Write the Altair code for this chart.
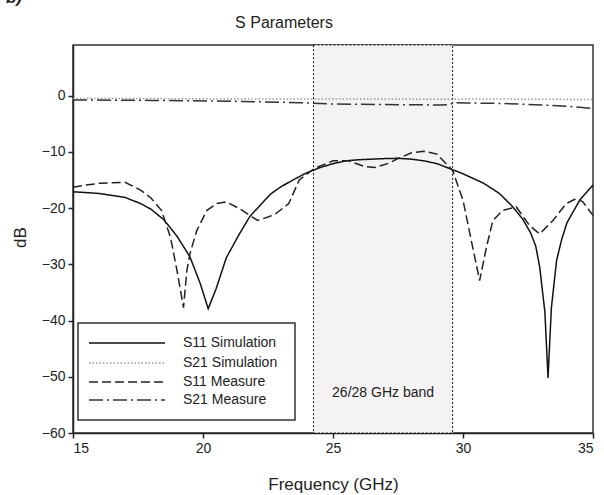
import altair as alt
import pandas as pd

# ---- data ----
s11_sim_f = [15.0, 16.0, 17.0, 17.6, 18.0, 18.5, 19.0, 19.5, 19.9, 20.2, 20.5, 20.9, 21.4, 21.8,
             22.2, 22.6, 23.0, 23.5, 24.0, 24.5, 25.0, 25.5, 26.0, 27.0, 27.5, 28.0, 28.5, 29.0,
             29.5, 30.0, 30.8, 31.4, 31.9, 32.3, 32.6, 32.8, 32.95, 33.15, 33.27, 33.4, 33.6,
             33.8, 34.0, 34.5, 35.0]
s11_sim_db = [-17.1, -17.4, -18.1, -19.2, -20.2, -22.1, -25.0, -28.7, -33.5, -37.9, -34.4, -28.8,
              -24.6, -21.5, -19.5, -17.5, -16.2, -14.9, -13.7, -12.8, -12.1, -11.6, -11.4, -11.2,
              -11.15, -11.3, -11.6, -12.1, -13.0, -13.9, -15.6, -17.4, -19.7, -22.0, -24.4, -26.8,
              -30.5, -38.5, -50.2, -37.7, -29.3, -25.5, -22.6, -18.5, -15.9]

s21_sim_f = [15, 17, 19, 21, 23, 25, 27, 29, 31, 33, 35]
s21_sim_db = [-0.5, -0.5, -0.55, -0.6, -0.6, -0.6, -0.6, -0.65, -0.6, -0.65, -0.7]

s11_meas_f = [15.0, 15.5, 16.0, 16.5, 17.0, 17.6, 18.0, 18.4, 18.75, 19.0, 19.25, 19.38, 19.5,
              19.76, 20.15, 20.53, 20.9, 21.4, 21.8, 22.1, 22.5, 22.8, 23.3, 23.7, 24.3, 25.0,
              25.6, 26.2, 26.6, 27.1, 27.5, 28.0, 28.5, 29.0, 29.6, 30.0, 30.32, 30.64, 30.9,
              31.15, 31.53, 32.05, 32.56, 32.95, 33.46, 33.97, 34.36, 34.61, 35.0]
s11_meas_db = [-16.3, -15.9, -15.6, -15.5, -15.4, -16.8, -18.2, -20.4, -25.2, -31.1, -37.7, -31.1,
               -28.1, -24.0, -20.4, -19.2, -18.9, -20.1, -21.3, -22.2, -21.6, -21.0, -19.2, -15.0,
               -12.9, -11.6, -11.6, -12.6, -12.8, -12.1, -11.2, -10.2, -9.9, -10.4, -13.3, -18.6,
               -25.8, -32.9, -27.0, -22.2, -20.4, -19.8, -23.1, -24.6, -22.2, -19.2, -18.3, -18.9,
               -21.3]

s21_meas_f = [15, 18, 21, 23.7, 25, 27, 29.1, 29.5, 29.65, 30.1, 31.5, 33, 34, 35]
s21_meas_db = [-0.77, -0.85, -1.0, -1.25, -1.5, -1.6, -1.66, -1.6, -1.25, -1.3, -1.4, -1.66,
               -1.9, -2.3]

series_names = ["S11 Simulation", "S21 Simulation", "S11 Measure", "S21 Measure"]
band_start, band_end = 24.25, 29.6
band_label = "26/28 GHz band"
chart_title = "S Parameters"
panel_tag = "b)"

frames = []
for name, f, d in zip(series_names,
                      [s11_sim_f, s21_sim_f, s11_meas_f, s21_meas_f],
                      [s11_sim_db, s21_sim_db, s11_meas_db, s21_meas_db]):
    frames.append(pd.DataFrame({"f": f, "db": d, "series": name}))
df = pd.concat(frames, ignore_index=True)
df["order"] = df.index

band_df = pd.DataFrame({"x1": [band_start], "x2": [band_end], "y1": [-60], "y2": [9],
                        "label": [band_label], "xm": [(band_start + band_end) / 2]})

W, H = 520, 388
FONT = "Liberation Sans"

xscale = alt.Scale(domain=[15, 35], nice=False, zero=False)
yscale = alt.Scale(domain=[-60, 9], nice=False, zero=False)
dash_scale = alt.Scale(domain=series_names, range=[[1, 0], [1.5, 2], [9, 4], [14, 4, 2, 4]])
color_scale = alt.Scale(domain=series_names, range=["#111", "#999", "#222", "#333"])

band = alt.Chart(band_df).mark_rect(
    fill="#f4f2f3", stroke="#111", strokeDash=[2, 2], strokeWidth=1
).encode(
    x=alt.X("x1:Q", scale=xscale, title="Frequency (GHz)",
            axis=alt.Axis(values=[15, 20, 25, 30, 35], format="d")),
    x2="x2:Q",
    y=alt.Y("y1:Q", scale=yscale, title="dB",
            axis=alt.Axis(values=[-60, -50, -40, -30, -20, -10, 0], format="d")),
    y2="y2:Q",
)

band_text = alt.Chart(band_df).mark_text(
    font=FONT, fontSize=14, color="#222", baseline="middle", align="center"
).encode(x=alt.X("xm:Q", scale=xscale), y=alt.value(348), text="label:N")

lines = alt.Chart(df).mark_line(strokeWidth=1.5).encode(
    x=alt.X("f:Q", scale=xscale),
    y=alt.Y("db:Q", scale=yscale),
    order="order:Q",
    strokeDash=alt.StrokeDash("series:N", scale=dash_scale, legend=None),
    color=alt.Color("series:N", scale=color_scale, legend=None),
)

# ---- hand-drawn legend box (inside the plot, lower left) ----
leg_df = pd.DataFrame({"series": series_names})
legend_layers = [
    alt.Chart(leg_df.iloc[:1]).mark_rect(
        fill="white", stroke="#333", strokeWidth=1.5
    ).encode(x=alt.value(5), x2=alt.value(222), y=alt.value(278), y2=alt.value(375))
]
row_y = [298, 318, 337, 355]
for i, name in enumerate(series_names):
    row = leg_df.iloc[i:i + 1]
    legend_layers.append(
        alt.Chart(row).mark_rule(strokeWidth=1.5).encode(
            x=alt.value(16), x2=alt.value(92), y=alt.value(row_y[i]),
            strokeDash=alt.StrokeDash("series:N", scale=dash_scale, legend=None),
            color=alt.Color("series:N", scale=color_scale, legend=None),
        )
    )
    legend_layers.append(
        alt.Chart(row).mark_text(
            font=FONT, fontSize=14, color="#222", align="left", baseline="middle"
        ).encode(x=alt.value(110), y=alt.value(row_y[i]), text="series:N")
    )

title_df = pd.DataFrame({"t": [chart_title], "tag": [panel_tag]})
title = alt.Chart(title_df).mark_text(
    font=FONT, fontSize=16, color="#222", align="center", baseline="alphabetic"
).encode(x=alt.value(211), y=alt.value(-17), text="t:N")
tag = alt.Chart(title_df).mark_text(
    font=FONT, fontSize=17, fontWeight="bold", fontStyle="italic", color="#222",
    align="center", baseline="alphabetic"
).encode(x=alt.value(-59), y=alt.value(-42), text="tag:N")

chart = alt.layer(band, band_text, lines, *legend_layers, title, tag).properties(
    width=W, height=H,
    autosize=alt.AutoSizeParams(type="none"),
    padding={"left": 73, "top": 45, "right": 11, "bottom": 62},
).configure_view(
    stroke="#333", strokeWidth=1.5
).configure_axis(
    domainColor="#222", domainWidth=1.5, tickColor="#222", tickWidth=1.5, tickSize=5,
    labelFont=FONT, labelFontSize=14, labelColor="#222", labelPadding=3,
    titleFont=FONT, titleFontSize=17, titleColor="#222", titleFontWeight="normal",
    grid=False,
).configure_axisY(
    titleAngle=270, titleX=-53, titleY=192, titleAlign="center", titleBaseline="middle"
).configure_axisX(
    titleX=260, titleY=51, titleAlign="center", titleBaseline="middle"
)

chart.save("out.html", embed_options={"renderer": "svg", "actions": False})
